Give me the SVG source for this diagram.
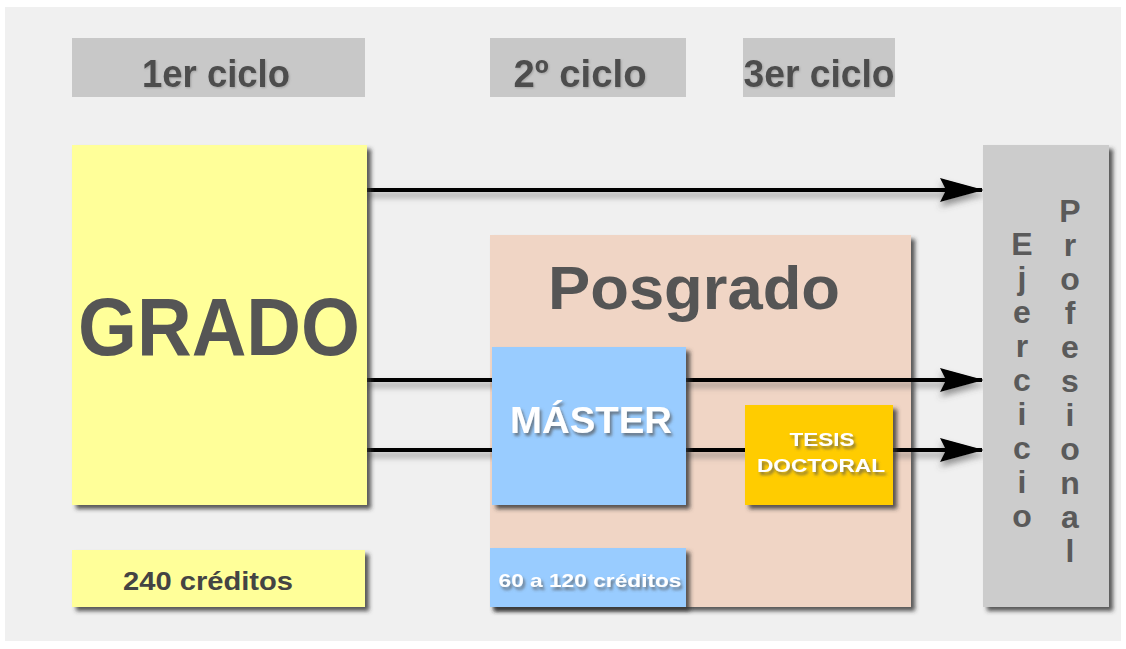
<svg xmlns="http://www.w3.org/2000/svg" width="1126" height="649" viewBox="0 0 1126 649">
<defs>
<filter id="sh" x="-10%" y="-10%" width="130%" height="130%">
<feDropShadow dx="4" dy="4" stdDeviation="2" flood-color="#333" flood-opacity="0.8"/>
</filter>
<filter id="lsh" x="-5%" y="-200%" width="110%" height="600%">
<feDropShadow dx="0" dy="5" stdDeviation="3" flood-color="#555" flood-opacity="0.6"/>
</filter>
<filter id="tsh" x="-10%" y="-20%" width="130%" height="150%">
<feDropShadow dx="2" dy="3" stdDeviation="1.5" flood-color="#555" flood-opacity="0.7"/>
</filter>
<filter id="hsh" x="-10%" y="-20%" width="130%" height="150%">
<feDropShadow dx="1" dy="1" stdDeviation="1" flood-color="#888" flood-opacity="0.6"/>
</filter>
<marker id="ah" viewBox="0 0 44 26" refX="42" refY="13" markerWidth="44" markerHeight="26" markerUnits="userSpaceOnUse" orient="auto">
<path d="M0,1 L44,13 L0,25 L6,13 Z" fill="#000"/>
</marker>
<style>
.lbl{font-family:"Liberation Sans",Arial,sans-serif;font-weight:bold;fill:#555;text-anchor:middle}
.hdr{font-family:"Liberation Sans",Arial,sans-serif;font-weight:bold;fill:#4d4d4d;text-anchor:middle;font-size:39px}
.wht{font-family:"Liberation Sans",Arial,sans-serif;font-weight:bold;fill:#fff;text-anchor:middle}
.conn{stroke:#000;stroke-width:4;fill:none}
.vt{font-family:"Liberation Sans",Arial,sans-serif;font-weight:bold;font-size:32px;fill:#5a5a5a;text-anchor:middle}
</style>
</defs>
<rect x="0" y="0" width="1126" height="649" fill="#fff"/>
<rect x="5" y="7" width="1116" height="634" fill="#f0f0f0"/>

<g id="h1"><rect x="72" y="38" width="293" height="59" fill="#c8c8c8"/><text class="hdr" x="216" y="87" textLength="148" lengthAdjust="spacingAndGlyphs" filter="url(#hsh)">1er ciclo</text></g>
<g id="h2"><rect x="490" y="38" width="196" height="59" fill="#c8c8c8"/><text class="hdr" x="580" y="87" textLength="133" lengthAdjust="spacingAndGlyphs" filter="url(#hsh)">2º ciclo</text></g>
<g id="h3"><rect x="743" y="38" width="152" height="59" fill="#c8c8c8"/><text class="hdr" x="819" y="87" textLength="151" lengthAdjust="spacingAndGlyphs" filter="url(#hsh)">3er ciclo</text></g>

<g id="posgrado"><rect x="490" y="235" width="421" height="372" fill="#f0d5c5" filter="url(#sh)"/><text class="lbl" x="694" y="309" font-size="62" textLength="292" lengthAdjust="spacingAndGlyphs">Posgrado</text></g>

<g id="connectors" filter="url(#lsh)">
<line class="conn" x1="367" y1="190" x2="982" y2="190" marker-end="url(#ah)"/>
<line class="conn" x1="367" y1="380" x2="982" y2="380" marker-end="url(#ah)"/>
<line class="conn" x1="367" y1="450" x2="982" y2="450" marker-end="url(#ah)"/>
</g>

<g id="grado"><rect x="72" y="145" width="295" height="360" fill="#ffff99" filter="url(#sh)"/><text class="lbl" x="219" y="355" font-size="82" textLength="282" lengthAdjust="spacingAndGlyphs">GRADO</text></g>
<g id="c240"><rect x="72" y="550" width="293" height="57" fill="#ffff99" filter="url(#sh)"/><text class="lbl" x="208" y="590" font-size="26" textLength="170" lengthAdjust="spacingAndGlyphs" style="fill:#444">240 créditos</text></g>

<g id="master"><rect x="492" y="347" width="194" height="158" fill="#99ccff" filter="url(#sh)"/><text class="wht" x="591" y="433" font-size="37" textLength="162" lengthAdjust="spacingAndGlyphs" filter="url(#tsh)">MÁSTER</text></g>
<g id="c60"><rect x="490" y="548" width="196" height="59" fill="#99ccff" filter="url(#sh)"/><text class="wht" x="590" y="587" font-size="19" textLength="183" lengthAdjust="spacingAndGlyphs" filter="url(#tsh)">60 a 120 créditos</text></g>

<g id="tesis"><rect x="745" y="405" width="148" height="100" fill="#ffcc00" filter="url(#sh)"/>
<text class="wht" x="822" y="446" font-size="19" textLength="65" lengthAdjust="spacingAndGlyphs" filter="url(#tsh)">TESIS</text>
<text class="wht" x="821" y="472" font-size="19" textLength="128" lengthAdjust="spacingAndGlyphs" filter="url(#tsh)">DOCTORAL</text></g>

<g id="ejercicio"><rect x="983" y="145" width="126" height="462" fill="#cccccc" filter="url(#sh)"/>
<g class="vt">
<text x="1022" y="255">E</text><text x="1022" y="289">j</text><text x="1022" y="323">e</text><text x="1022" y="357">r</text><text x="1022" y="391">c</text><text x="1022" y="425">i</text><text x="1022" y="459">c</text><text x="1022" y="493">i</text><text x="1022" y="527">o</text>
<text x="1070" y="222">P</text><text x="1070" y="256">r</text><text x="1070" y="290">o</text><text x="1070" y="324">f</text><text x="1070" y="358">e</text><text x="1070" y="392">s</text><text x="1070" y="426">i</text><text x="1070" y="460">o</text><text x="1070" y="494">n</text><text x="1070" y="528">a</text><text x="1070" y="562">l</text>
</g></g>
</svg>
